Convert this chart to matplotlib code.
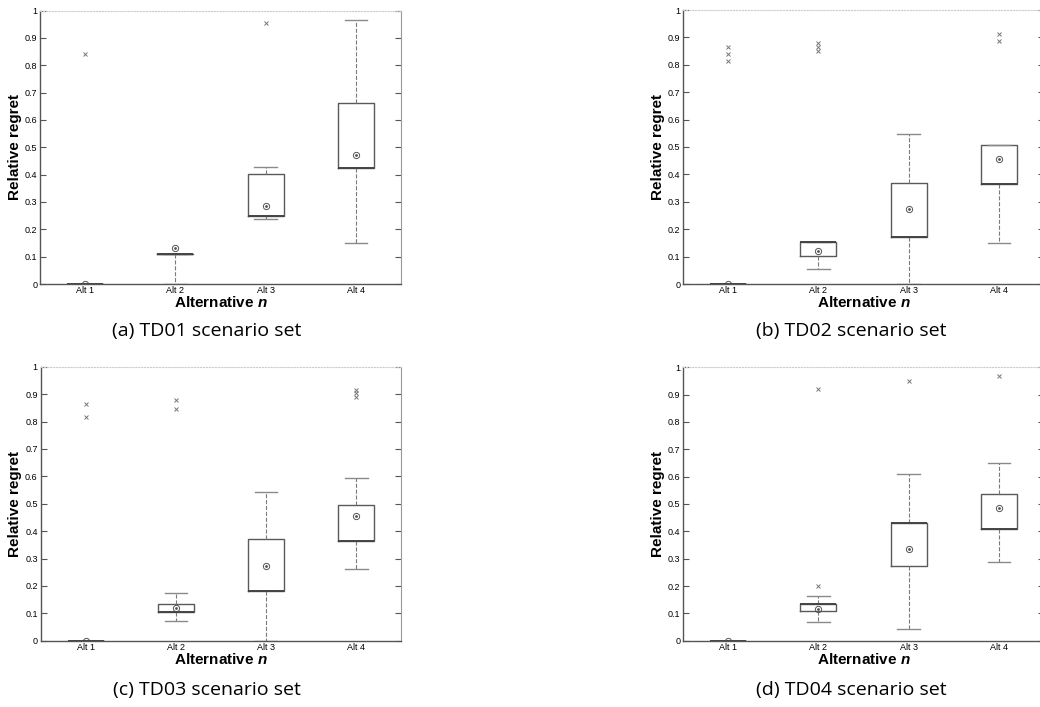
import matplotlib
matplotlib.use("Agg")
import matplotlib.pyplot as plt

plt.rcParams['font.family'] = ['Liberation Sans', 'DejaVu Sans']
plt.rcParams['mathtext.fontset'] = 'custom'
plt.rcParams['mathtext.it'] = 'Liberation Sans:italic:bold'

alts = ['Alt 1', 'Alt 2', 'Alt 3', 'Alt 4']
yticks = [0, 0.1, 0.2, 0.3, 0.4, 0.5, 0.6, 0.7, 0.8, 0.9, 1]
ytick_labels = ['0', '0.1', '0.2', '0.3', '0.4', '0.5', '0.6', '0.7', '0.8', '0.9', '1']

# TD01
td01_q1 = [0, 0.11, 0.249, 0.423]
td01_med = [0, 0.11, 0.249, 0.423]
td01_q3 = [0, 0.11, 0.402, 0.661]
td01_lo = [0, 0, 0.237, 0.151]
td01_hi = [0, 0.11, 0.426, 0.966]
td01_mean = [0, 0.133, 0.284, 0.472]
td01_out = [[0.841], [], [0.956], []]

# TD02
td02_q1 = [0, 0.102, 0.172, 0.364]
td02_med = [0, 0.152, 0.172, 0.364]
td02_q3 = [0, 0.152, 0.369, 0.507]
td02_lo = [0, 0.054, 0, 0.151]
td02_hi = [0, 0.152, 0.546, 0.507]
td02_mean = [0, 0.12, 0.273, 0.456]
td02_out = [[0.865, 0.84, 0.815], [0.88, 0.865, 0.85], [], [0.911, 0.888]]

# TD03
td03_q1 = [0, 0.104, 0.181, 0.365]
td03_med = [0, 0.104, 0.181, 0.365]
td03_q3 = [0, 0.133, 0.370, 0.495]
td03_lo = [0, 0.073, 0, 0.263]
td03_hi = [0, 0.174, 0.544, 0.595]
td03_mean = [0, 0.119, 0.271, 0.454]
td03_out = [[0.863, 0.815], [0.878, 0.846], [], [0.915, 0.903, 0.89]]

# TD04
td04_q1 = [0, 0.109, 0.272, 0.409]
td04_med = [0, 0.133, 0.432, 0.409]
td04_q3 = [0, 0.133, 0.432, 0.536]
td04_lo = [0, 0.07, 0.043, 0.288]
td04_hi = [0, 0.165, 0.610, 0.649]
td04_mean = [0, 0.115, 0.336, 0.484]
td04_out = [[], [0.920, 0.201], [0.950], [0.968]]

panels = [
    ("(a) TD01 scenario set", td01_q1, td01_med, td01_q3, td01_lo, td01_hi, td01_mean, td01_out),
    ("(b) TD02 scenario set", td02_q1, td02_med, td02_q3, td02_lo, td02_hi, td02_mean, td02_out),
    ("(c) TD03 scenario set", td03_q1, td03_med, td03_q3, td03_lo, td03_hi, td03_mean, td03_out),
    ("(d) TD04 scenario set", td04_q1, td04_med, td04_q3, td04_lo, td04_hi, td04_mean, td04_out),
]

W, H = 1040, 707
fig = plt.figure(figsize=(W / 100, H / 100), dpi=100)

# axes boxes in pixels: left, y of value 0, width, height
boxes = [(40, 284, 361, 273.5), (683, 284, 361, 274),
         (40.5, 640.7, 361, 274), (683, 640.7, 361, 273.5)]
caption_xy = [(207, 331), (851, 331), (207, 690), (851, 690)]

pos = [1, 2, 3, 4]
for (cap, q1, med, q3, lo, hi, mean, out), (l, b, w, h), (cx, cy) in zip(panels, boxes, caption_xy):
    ax = fig.add_axes([l / W, 1 - b / H, w / W, h / H])
    stats = []
    for i in range(4):
        stats.append(dict(q1=q1[i], med=med[i], q3=q3[i], whislo=lo[i],
                          whishi=hi[i], fliers=out[i], label=alts[i]))
    ax.bxp(stats, positions=pos, widths=0.4, capwidths=0.25,
           boxprops=dict(color='#5a5a5a', lw=1.0),
           medianprops=dict(color='#444444', lw=1.4),
           whiskerprops=dict(color='#7a7a7a', lw=0.8, ls='--'),
           capprops=dict(color='#8a8a8a', lw=1.0),
           flierprops=dict(marker='x', ms=3, mec='#777777', mew=0.7, ls='none'))
    ax.plot(pos, mean, ls='none', marker='o', ms=4.5, mfc='none', mec='#555555', mew=0.7)
    ax.plot(pos, mean, ls='none', marker='.', ms=2, color='#555555')

    ax.set_xlim(0.5, 4.5)
    ax.set_ylim(0, 1)
    ax.set_yticks(yticks)
    ax.set_yticklabels(ytick_labels)
    ax.tick_params(axis='y', direction='in', length=4, width=0.8, color='#555555',
                   labelsize=6.5, pad=2, right=True)
    ax.tick_params(axis='x', length=0, labelsize=6.5, pad=1.5)
    for s in ['left', 'bottom']:
        ax.spines[s].set_color('#555555')
        ax.spines[s].set_linewidth(1.0)
    ax.spines['right'].set_color('#999999')
    ax.spines['right'].set_linewidth(0.8)
    ax.spines['top'].set_color('#cccccc')
    ax.spines['top'].set_linestyle(':')
    ax.spines['top'].set_linewidth(0.8)

    ax.set_ylabel('Relative regret', fontsize=11, fontweight='bold')
    ax.yaxis.set_label_coords(-0.05, 0.5)
    ax.set_xlabel(r'Alternative $\it{n}$', fontsize=11, fontweight='bold', labelpad=0)

    fig.text(cx / W, 1 - cy / H, cap, fontsize=14, family=['Open Sans', 'DejaVu Sans'],
             ha='center', va='center')

fig.savefig('out.png', dpi=100)
